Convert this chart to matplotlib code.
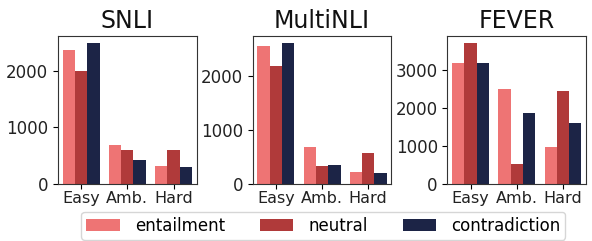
import matplotlib
matplotlib.use("Agg")
import matplotlib.pyplot as plt
import numpy as np

datasets = ["SNLI", "MultiNLI", "FEVER"]
categories = ["Easy", "Amb.", "Hard"]
labels = ["entailment", "neutral", "contradiction"]
colors = ["#ee7474", "#b03a3a", "#1c2446"]

snli = {"entailment": [2363, 696, 328],
        "neutral": [2000, 602, 602],
        "contradiction": [2491, 433, 310]}
multinli = {"entailment": [2544, 695, 223],
            "neutral": [2184, 335, 583],
            "contradiction": [2608, 359, 197]}
fever = {"entailment": [3210, 2508, 982],
         "neutral": [3726, 542, 2447],
         "contradiction": [3210, 1876, 1621]}
values = [snli, multinli, fever]

plt.rcParams['font.family'] = ['DejaVu Sans']
fig, axes = plt.subplots(1, 3, figsize=(5.92, 2.41), dpi=100)
x = np.arange(len(categories))
w = 0.8 / 3
handles = []
for ax, name, data in zip(axes, datasets, values):
    for i, (lab, c) in enumerate(zip(labels, colors)):
        b = ax.bar(x - 0.4 + w * (i + 0.5), data[lab], width=w, color=c, label=lab)
        if ax is axes[0]:
            handles.append(b)
    ax.set_xticks(x)
    ax.set_xticklabels(categories, fontsize=11.5, color="#222222")
    ax.tick_params(axis='x', pad=1.5)
    ax.tick_params(axis='y', labelsize=12, labelcolor="#222222")
    ax.set_xlim(-0.5, 2.5)
    ax.set_title(name, fontsize=17, color="#111111")
    for s in ax.spines.values():
        s.set_color("#333333")

fig.subplots_adjust(left=0.098, right=0.99, top=0.851, bottom=0.236, wspace=0.405)
fig.legend(handles, labels, loc='lower center', ncol=3, fontsize=12,
           bbox_to_anchor=(0.546, 0.006), borderaxespad=0, handlelength=2.0,
           handleheight=0.7, handletextpad=0.9, columnspacing=2.1, borderpad=0.3)
fig.savefig("out.png", dpi=100)
